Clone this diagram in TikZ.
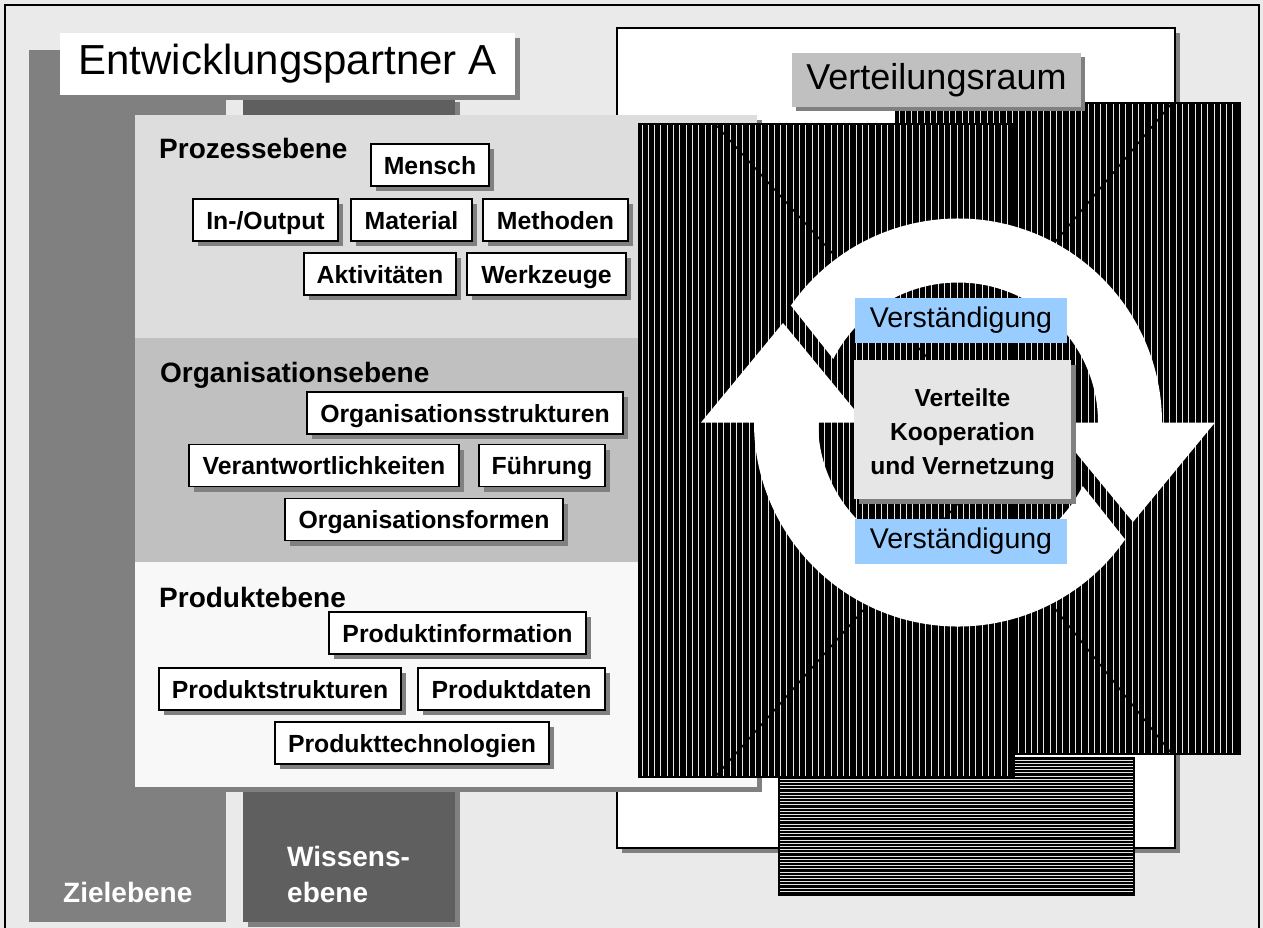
\documentclass[tikz,border=0pt]{standalone}
\usepackage{fontspec}
\setmainfont{Liberation Sans}
\usetikzlibrary{shadows}

\definecolor{framebg}{HTML}{EAEAEA}
\definecolor{zielgray}{HTML}{808080}
\definecolor{wissengray}{HTML}{5F5F5F}
\definecolor{prozessbg}{HTML}{DDDDDD}
\definecolor{orgbg}{HTML}{C0C0C0}
\definecolor{produktbg}{HTML}{F8F8F8}
\definecolor{shadowgray}{HTML}{808080}
\definecolor{labelgray}{HTML}{C0C0C0}
\definecolor{centerbg}{HTML}{E6E6E6}
\definecolor{verstblue}{HTML}{99CCFF}
\definecolor{stripecol}{HTML}{E4E4E4}

\newcommand\fsize[1]{\fontsize{#1bp}{#1bp}\selectfont}

% white ring arrow around the centre, drawn in local y-up coordinates
\newcommand\ringarrow[1]{%
  \fill[white,#1] (145:204) arc[start angle=145, end angle=0, radius=204]
    -- (257,0) -- (175,-99.5) -- (93,0) -- (140,0)
    arc[start angle=0, end angle=153, radius=140] -- cycle;}

% black area with vertical light stripes: {x0}{y0}{x1}{y1}{count}
\newcommand\vhatch[5]{%
  \begin{scope}
    \clip (#1,#2) rectangle (#3,#4);
    \fill[black] (#1,#2) rectangle (#3,#4);
    \foreach \i in {0,...,#5}
      \draw[stripe] ({#1+3+6.3*\i},#2) -- ({#1+3+6.3*\i},#4);
  \end{scope}
  \draw[line width=1.5bp] (#1,#2) rectangle (#3,#4);}

% black area with horizontal light stripes
\newcommand\hhatch[5]{%
  \begin{scope}
    \clip (#1,#2) rectangle (#3,#4);
    \fill[black] (#1,#2) rectangle (#3,#4);
    \foreach \i in {0,...,#5}
      \draw[stripe] (#1,{#2+2+3.2*\i}) -- (#3,{#2+2+3.2*\i});
  \end{scope}
  \draw[line width=1.5bp] (#1,#2) rectangle (#3,#4);}

\tikzset{
  hard shadow/.style={drop shadow={shadow xshift=5bp, shadow yshift=-5bp,
      fill=shadowgray, opacity=1}},
  ebox/.style={draw=black, line width=1.4bp, fill=white, inner sep=0pt,
      minimum width=#1, minimum height=42bp, text height=20bp, text depth=2bp,
      font={\bfseries\fsize{24.8}}, hard shadow},
  level/.style={anchor=base west, inner sep=0pt, font={\bfseries\fsize{28}}},
  collabel/.style={anchor=base west, inner sep=0pt, text=white,
      font={\bfseries\fsize{28}}},
  stripe/.style={draw=stripecol, line width=1bp},
  verst/.style={fill=verstblue, inner sep=0pt, minimum width=212bp,
      minimum height=45bp, font=\fsize{28.5}},
  guide/.style={draw=black, line width=1.6bp},
}

\begin{document}
\begin{tikzpicture}[x=1bp, y=-1bp]
\useasboundingbox (0,0) rectangle (1263,928);

% outer frame
\fill[framebg] (0,0) rectangle (1263,928);
\draw[line width=1.5bp, fill=framebg] (5,5) rectangle (1259,960);

% goal and knowledge columns
\fill[zielgray] (29,50) rectangle (226,922);
\fill[wissengray, hard shadow] (243,97) rectangle (455,922);
\node[collabel] (ziel) at (63,902) {Zielebene};
\node[collabel] (wissen1) at (287,866) {Wissens-};
\node[collabel] (wissen2) at (287,902) {ebene};

% partner title
\node[fill=white, hard shadow, inner sep=0pt, minimum width=455bp,
      minimum height=62bp, font=\fsize{42}] (partner) at (287.5,64)
      {Entwicklungspartner A};

% distribution space
\draw[line width=1.5bp, fill=white, hard shadow] (617,28) rectangle (1175,848);

% level panel
\fill[prozessbg, hard shadow] (135,115) rectangle (757,787);
\fill[prozessbg] (135,115) rectangle (757,338);
\fill[orgbg] (135,338) rectangle (757,562);
\fill[produktbg] (135,562) rectangle (757,787);

% process level
\node[level] (prozess) at (159,158) {Prozessebene};
\node[ebox=118bp] (mensch) at (430,165) {Mensch};
\node[ebox=145bp] (io) at (265.5,220) {In-/Output};
\node[ebox=121bp] (material) at (411.5,220) {Material};
\node[ebox=145bp] (methoden) at (555.5,220) {Methoden};
\node[ebox=152bp] (aktiv) at (380,274) {Aktivitäten};
\node[ebox=159bp] (werkzeuge) at (546.5,274) {Werkzeuge};

% organisation level
\node[level] (org) at (160,382) {Organisationsebene};
\node[ebox=316bp] (orgstr) at (465,413) {Organisationsstrukturen};
\node[ebox=270bp] (verantw) at (324,465.5) {Verantwortlichkeiten};
\node[ebox=126bp] (fuehrung) at (542,465.5) {Führung};
\node[ebox=278bp] (orgform) at (424,519.5) {Organisationsformen};

% product level
\node[level] (produkt) at (159,607) {Produktebene};
\node[ebox=257bp] (pinfo) at (457.5,633) {Produktinformation};
\node[ebox=242bp] (pstr) at (280,689) {Produktstrukturen};
\node[ebox=187bp] (pdaten) at (511.5,689) {Produktdaten};
\node[ebox=274bp] (ptech) at (412,743) {Produkttechnologien};

% hatched partner areas
\hhatch{779}{758}{1134}{895}{43}
\vhatch{896}{103}{1240}{754}{55}
\vhatch{639}{124}{1014}{777}{60}

% perspective lines
\coordinate (ulA) at (715,124);  \coordinate (ulB) at (945,377);
\coordinate (urA) at (1172,103); \coordinate (urB) at (1040,260);
\coordinate (llA) at (715,777);  \coordinate (llB) at (970,490);
\coordinate (lrA) at (1172,754); \coordinate (lrB) at (1040,590);
\draw[guide] (ulA) -- (ulB);
\draw[guide] (urA) -- (urB);
\draw[guide] (llA) -- (llB);
\draw[guide] (lrA) -- (lrB);

% cycle arrows
\begin{scope}[shift={(958,422.5)}, yscale=-1]
  \ringarrow{}
  \ringarrow{rotate=180}
\end{scope}

% centre
\node[fill=centerbg, hard shadow, inner sep=0pt, minimum width=217bp,
      minimum height=139bp, align=center,
      font={\bfseries\fontsize{24.6bp}{34bp}\selectfont}] (coop) at (962.5,429.5)
      {\rule{0pt}{28bp}Verteilte\\Kooperation\\und Vernetzung};
\node[verst] (verstTop) at (961,320) {Verständigung};
\node[verst] (verstBot) at (961,541.5) {Verständigung};

% space title
\node[fill=labelgray, drop shadow={shadow xshift=4bp, shadow yshift=-4bp,
      fill=shadowgray, opacity=1}, inner sep=0pt, minimum width=289bp,
      minimum height=54bp, font=\fsize{36}] (raum) at (936.5,80) {Verteilungsraum};
\end{tikzpicture}
\end{document}
